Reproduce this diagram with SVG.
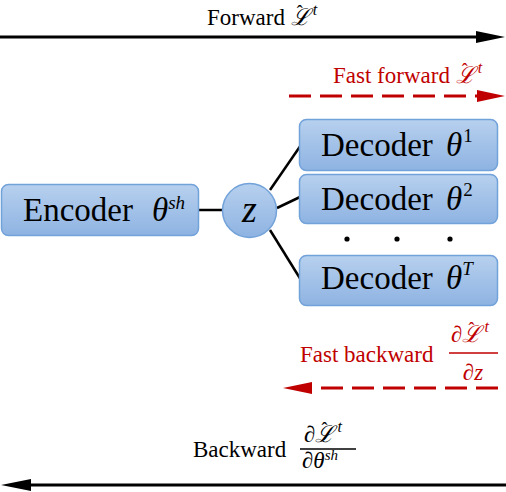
<svg xmlns="http://www.w3.org/2000/svg" width="506" height="492" viewBox="0 0 506 492" font-family="Liberation Serif, serif">
<style>
text{font-family:'Liberation Serif',serif}
.r{fill:#C00000}
.m{font-style:italic}
.box{fill:url(#g);stroke:#72A2DA;stroke-width:1.5}
.con{stroke:#000;stroke-width:2.5;fill:none}
.ar{stroke:#000;stroke-width:3;fill:none}
.dash{stroke:#C00000;stroke-width:3;fill:none;stroke-dasharray:22 9}
</style>
<defs>
<linearGradient id="g" x1="0" y1="0" x2="0" y2="1">
<stop offset="0" stop-color="#B7D0EE"/>
<stop offset="1" stop-color="#8EB3E2"/>
</linearGradient>
</defs>
<rect width="506" height="492" fill="#fff"/>

<g id="connectors">
<line class="con" x1="198" y1="210" x2="223" y2="210"/>
<line class="con" x1="270" y1="190" x2="301" y2="145"/>
<line class="con" x1="277" y1="208" x2="300" y2="197"/>
<line class="con" x1="270" y1="230" x2="301" y2="280"/>
<line class="ar" x1="0" y1="37" x2="478" y2="37"/>
<polygon points="476,31 505,37 476,43" fill="#000"/>
<line class="ar" x1="30" y1="485" x2="506" y2="485"/>
<polygon points="31,479 1,485 31,491" fill="#000"/>
<line class="dash" x1="289" y1="96" x2="478" y2="96"/>
<polygon points="477,90 505,96 477,102" fill="#C00000"/>
<line class="dash" x1="498" y1="388" x2="311" y2="388"/>
<polygon points="312,382 283,388 312,394" fill="#C00000"/>
</g>

<g id="forward-label" font-size="23">
<text x="207" y="25">Forward <tspan class="m">ℒ</tspan><tspan font-size="18" dx="-13" dy="-7">ˆ</tspan><tspan class="m" font-size="16" dx="10" dy="-3">t</tspan></text>
</g>

<g id="fast-forward-label" font-size="23" class="r">
<text x="333" y="83">Fast forward <tspan class="m">ℒ</tspan><tspan font-size="18" dx="-13" dy="-7">ˆ</tspan><tspan class="m" font-size="16" dx="10" dy="-3">t</tspan></text>
</g>

<g id="encoder" font-size="33">
<rect class="box" x="1.5" y="184.5" width="197" height="51" rx="7"/>
<text x="23" y="221">Encoder</text>
<text class="m" x="152" y="221">θ<tspan font-size="19" dy="-12">sh</tspan></text>
</g>

<g id="z">
<circle cx="249.5" cy="210.5" r="27" fill="url(#g)" stroke="#72A2DA" stroke-width="1.5"/>
<text class="m" x="249.5" y="222" font-size="38" text-anchor="middle">z</text>
</g>

<g id="decoder1" font-size="33">
<rect class="box" x="299.5" y="119.5" width="198" height="51" rx="7"/>
<text x="321" y="156">Decoder</text>
<text class="m" x="446" y="156">θ<tspan font-size="19" dx="1" dy="-14" font-style="normal">1</tspan></text>
</g>

<g id="decoder2" font-size="33">
<rect class="box" x="299.5" y="174.5" width="198" height="49" rx="7"/>
<text x="321" y="210">Decoder</text>
<text class="m" x="446" y="210">θ<tspan font-size="19" dx="1" dy="-14" font-style="normal">2</tspan></text>
</g>

<g id="dots">
<circle cx="347" cy="239" r="2.6" fill="#000"/>
<circle cx="397" cy="239" r="2.6" fill="#000"/>
<circle cx="450" cy="239" r="2.6" fill="#000"/>
</g>

<g id="decoderT" font-size="33">
<rect class="box" x="299.5" y="255.5" width="198" height="50" rx="7"/>
<text x="321" y="289">Decoder</text>
<text class="m" x="446" y="289">θ<tspan font-size="19" dy="-14">T</tspan></text>
</g>

<g id="fast-backward-label" font-size="23" class="r">
<text x="300" y="362">Fast backward</text>
<text class="m" x="451" y="342">∂ℒ<tspan font-size="18" font-style="normal" dx="-13" dy="-7">ˆ</tspan><tspan font-size="16" dx="10" dy="-3">t</tspan></text>
<line x1="449" y1="353" x2="498" y2="353" stroke="#C00000" stroke-width="1.3"/>
<text class="m" x="473" y="380" text-anchor="middle">∂z</text>
</g>

<g id="backward-label" font-size="23">
<text x="193" y="457">Backward</text>
<text class="m" x="304" y="442">∂ℒ<tspan font-size="18" font-style="normal" dx="-13" dy="-7">ˆ</tspan><tspan font-size="16" dx="10" dy="-3">t</tspan></text>
<line x1="300" y1="449" x2="356" y2="449" stroke="#000" stroke-width="1.3"/>
<text class="m" x="302" y="468">∂θ<tspan font-size="15" dy="-8">sh</tspan></text>
</g>
</svg>
